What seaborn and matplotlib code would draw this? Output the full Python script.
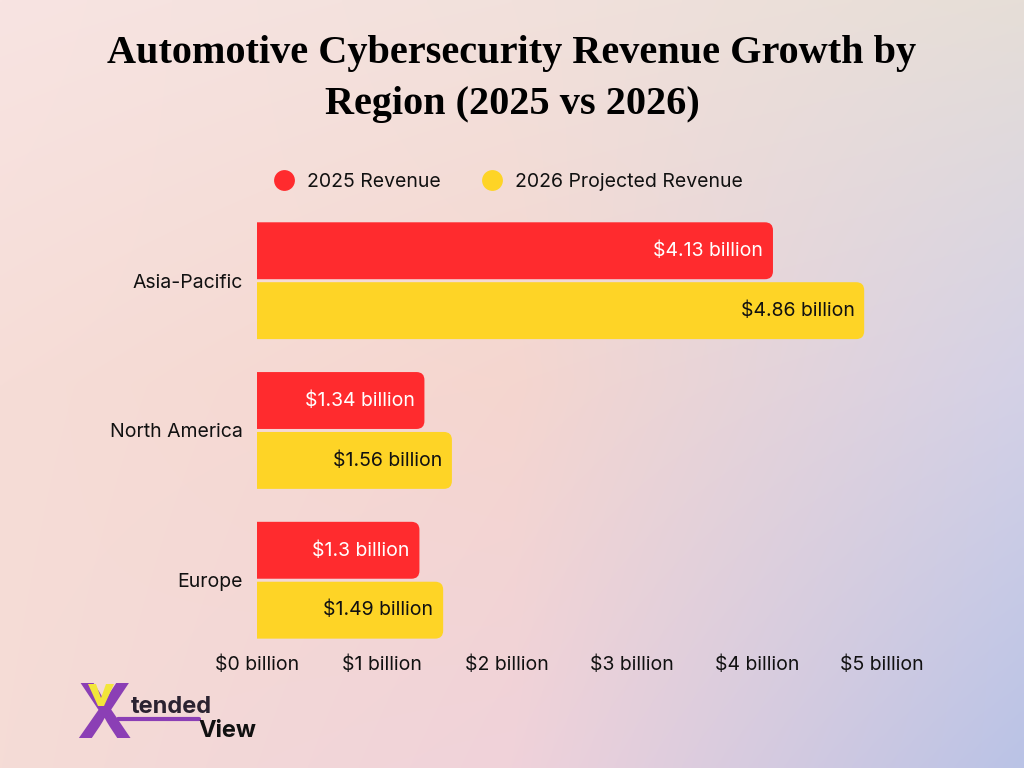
import numpy as np
import pandas as pd
import seaborn as sns
import matplotlib.pyplot as plt
from matplotlib.patches import FancyBboxPatch, Polygon
from matplotlib.lines import Line2D

regions = ["Asia-Pacific", "North America", "Europe"]
rev_2025 = [4.13, 1.34, 1.3]
rev_2026 = [4.86, 1.56, 1.49]
series = ["2025 Revenue", "2026 Projected Revenue"]
xticks = [0, 1, 2, 3, 4, 5]

red = "#FF2B2E"
yellow = "#FED426"

df = pd.DataFrame({
    "region": regions * 2,
    "value": rev_2025 + rev_2026,
    "series": [series[0]] * 3 + [series[1]] * 3,
})

sns.set_theme(style="white")
plt.rcParams["font.family"] = ["Inter", "DejaVu Sans"]

fig = plt.figure(figsize=(10.24, 7.68), dpi=100)

# background gradient, 3x3 control colours (rows top->bottom, cols left->right)
grid = np.array([
    [[248, 228, 226], [242, 225, 220], [230, 222, 215]],
    [[246, 221, 215], [245, 214, 207], [212, 209, 230]],
    [[245, 220, 214], [240, 210, 218], [186, 195, 230]],
]) / 255
pts = [0, 0.5, 1]
uu = np.linspace(0, 1, 256)
vv = np.linspace(0, 1, 192)
rows = np.stack([np.stack([np.interp(uu, pts, grid[r, :, c]) for c in range(3)], -1)
                 for r in range(3)])
img = np.stack([np.stack([np.interp(vv, pts, rows[:, i, c]) for c in range(3)], -1)
                for i in range(len(uu))], 1)
bg = fig.add_axes([0, 0, 1, 1], zorder=-10)
bg.imshow(np.clip(img, 0, 1), aspect="auto", extent=[0, 1, 0, 1], origin="upper",
          interpolation="bilinear")
bg.axis("off")

ax = fig.add_axes([0.251, 0.147, 0.610, 0.585])
ax.patch.set_alpha(0)
sns.barplot(data=df, y="region", x="value", hue="series", orient="h",
            palette=[red, yellow], gap=0.05, width=0.8, ax=ax, legend=False)

ax.set_xlim(0, 5)
ax.set_ylim(2.5, -0.5)

# rounded bar ends
for cont, col in zip(ax.containers, [red, yellow]):
    for bar in cont:
        x, y = bar.get_x(), bar.get_y()
        w, h = bar.get_width(), bar.get_height()
        bar.set_visible(False)
        fb = FancyBboxPatch((x - 0.2, y), w + 0.2, h,
                            boxstyle="round,pad=0,rounding_size=0.064",
                            mutation_aspect=0.83, facecolor=col,
                            edgecolor="none", zorder=2)
        ax.add_patch(fb)

for cont, vals, tc in zip(ax.containers, [rev_2025, rev_2026], ["white", "#111111"]):
    ax.bar_label(cont, labels=[f"\\${v:g} billion" for v in vals],
                 padding=-7, color=tc, fontsize=14)
    for t in ax.texts[-len(vals):]:
        t.set_ha("right")

ax.set_xticks(xticks)
ax.set_xticklabels([f"\\${t} billion" for t in xticks], fontsize=14, color="#111111")
ax.tick_params(axis="y", labelsize=14, labelcolor="#111111", pad=10)
ax.tick_params(axis="x", pad=0)
ax.tick_params(length=0)
ax.set_xlabel("")
ax.set_ylabel("")
sns.despine(ax=ax, left=True, bottom=True)

fig.text(0.5, 0.897, "Automotive Cybersecurity Revenue Growth by\nRegion (2025 vs 2026)",
         ha="center", va="center", fontsize=29, fontweight="bold",
         family="Liberation Serif", linespacing=1.5, color="black")

handles = [Line2D([], [], marker="o", linestyle="", markersize=15,
                  markerfacecolor=c, markeredgecolor="none") for c in [red, yellow]]
fig.legend(handles, series, loc="center", bbox_to_anchor=(0.492, 0.763), ncol=2,
           frameon=False, fontsize=14, handletextpad=0.2, columnspacing=1.6,
           labelcolor="#111111")

# logo
fig.text(0.074, 0.039, "X", fontsize=54, fontweight="bold", color="#8B3FB5",
         va="baseline", ha="left")
vpx = [(88, 684), (96, 684), (101, 698), (106, 684), (114, 684), (104, 706), (98, 706)]
fig.add_artist(Polygon([(px / 1024, 1 - py / 768) for px, py in vpx],
                       closed=True, facecolor="#F2E63A", edgecolor="none",
                       transform=fig.transFigure, zorder=6))
fig.text(0.128, 0.071, "tended", fontsize=17, fontweight="bold", color="#2a2230",
         va="baseline", ha="left")
fig.text(0.194, 0.041, "View", fontsize=17, fontweight="bold", color="#111111",
         va="baseline", ha="left")
fig.add_artist(Line2D([0.115, 0.194], [0.064, 0.064], color="#8B3FB5", lw=3))

fig.savefig("out.png", dpi=100)
